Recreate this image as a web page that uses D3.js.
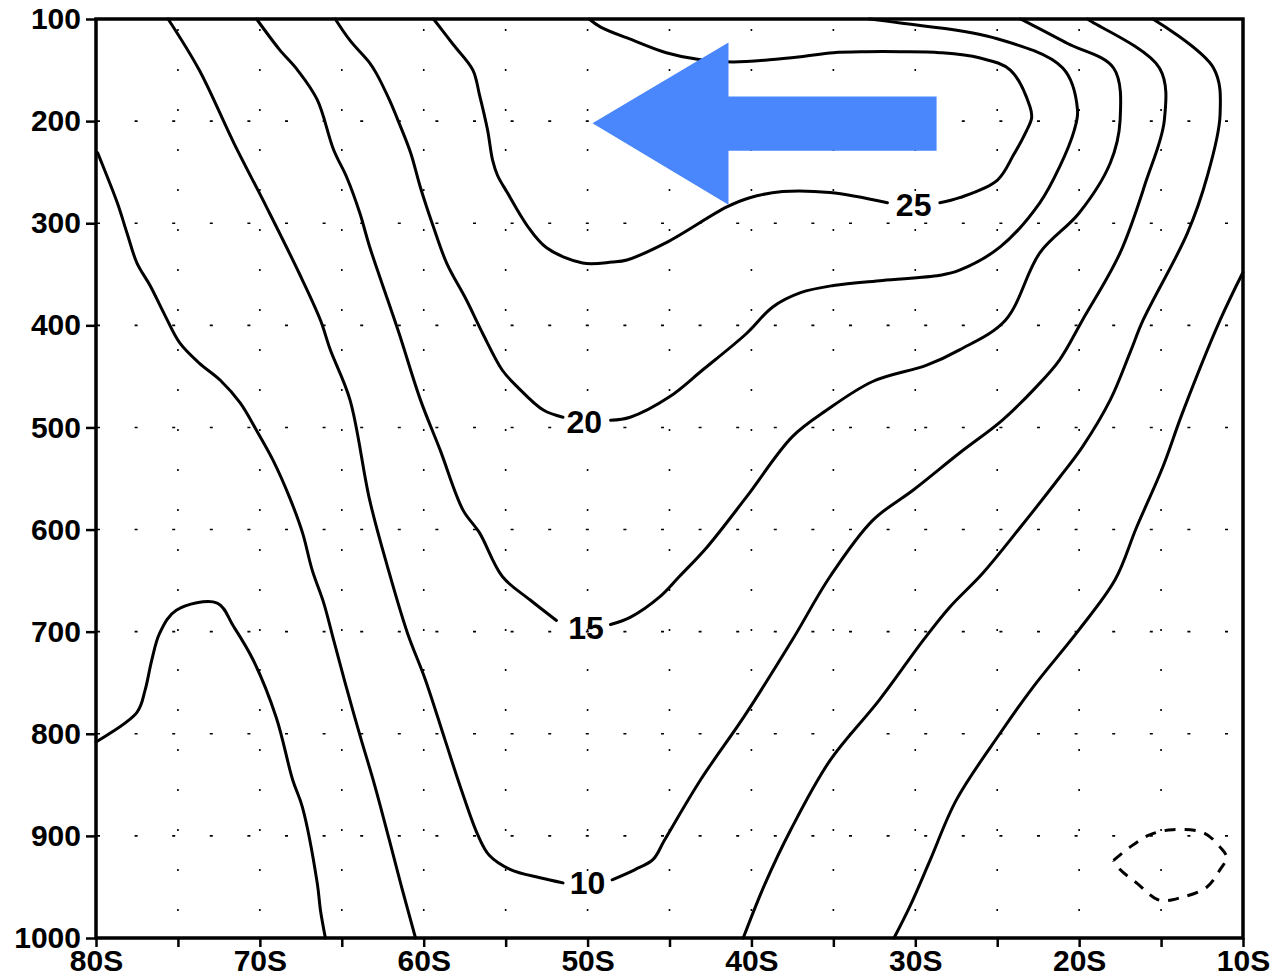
<!DOCTYPE html>
<html><head><meta charset="utf-8">
<script src="https://cdn.jsdelivr.net/npm/d3@7"></script>
<style>body{margin:0;background:#fff;}svg{display:block;}</style>
</head><body>
<svg id="chart" width="1276" height="980"></svg>
<script>
// ---- axis definitions ----
const latMajorTicks = [-80, -70, -60, -50, -40, -30, -20, -10];
const latAllTicks = [-80, -75, -70, -65, -60, -55, -50, -45, -40, -35, -30, -25, -20, -15, -10];
const pressureTicks = [100, 200, 300, 400, 500, 600, 700, 800, 900, 1000];

// ---- contour lines: [latitude (deg, negative = S), pressure (hPa)]; null = label gap ----
const contour25 = [[-59.4,100],[-58.2,125],[-57.0,150],[-56.6,174],[-56.1,209],[-55.8,238],[-55.5,253],[-54.9,270],
  [-53.7,302],[-52.5,324],[-50.3,339],[-48.5,338],[-47.6,336],[-45.2,319],[-41.5,284],[-40.1,275],[-38.1,269],
  [-35.2,270],[-31.7,280],null,[-28.5,280],[-27.3,275],[-25.0,258],[-24.0,233],[-23.2,209],[-22.9,197],[-23.0,186],
  [-24.2,150],[-26.1,138],[-28.5,133],[-30.9,132],[-33.0,132],[-35.0,133],[-37.0,137],[-38.9,140],[-41.1,142],
  [-43.1,140],[-45.2,133],[-47.2,121],[-49.2,108],[-49.9,100]];
const contour20 = [[-65.4,100],[-64.5,121],[-63.3,143],[-62.9,153],[-62.1,179],[-61.5,202],[-60.8,231],[-60.2,265],
  [-59.4,304],[-58.6,339],[-57.4,375],[-56.4,408],[-55.2,444],[-54.3,460],[-52.7,483],[-51.5,490],null,
  [-48.6,493],[-47.4,490],[-45.0,470],[-43.0,444],[-40.3,408],[-38.7,382],[-37.0,368],[-35.0,361],[-32.0,356],
  [-28.5,351],[-27.3,346],[-24.8,323],[-22.4,280],[-21.2,245],[-20.3,209],[-20.1,189],[-21.0,148],[-25.3,118],
  [-30.9,104],[-32.8,100]];
const contour15 = [[-70.2,100],[-68.8,130],[-67.7,150],[-66.5,179],[-65.5,228],[-64.7,255],[-63.9,290],[-63.3,323],
  [-62.2,375],[-61.5,408],[-60.2,473],[-59.0,522],[-57.6,581],[-56.6,603],[-55.2,646],[-53.5,669],[-51.9,689],null,
  [-48.6,693],[-47.4,686],[-45.6,666],[-44.4,646],[-42.7,617],[-40.3,568],[-37.5,509],[-35.4,483],[-32.6,455],
  [-29.3,439],[-27.3,424],[-24.5,395],[-22.4,329],[-20.0,290],[-18.1,241],[-17.5,199],[-17.9,148],[-20.7,124],
  [-23.2,103],[-23.6,100]];
const contour10 = [[-75.6,100],[-73.7,150],[-71.6,221],[-69.6,284],[-67.6,349],[-66.3,395],[-65.7,424],[-64.5,473],
  [-63.3,571],[-62.2,637],[-61.0,701],[-59.9,747],[-58.7,806],[-57.7,855],[-56.7,899],[-56.0,919],[-54.7,933],
  [-52.9,941],[-51.5,946],null,[-48.5,943],[-47.1,933],[-46.0,923],[-45.3,904],[-43.1,845],[-40.4,782],[-37.5,708],
  [-35.2,646],[-32.6,591],[-30.1,561],[-27.3,525],[-24.7,493],[-22.6,460],[-21.2,434],[-19.8,395],[-17.5,329],
  [-15.9,258],[-14.8,199],[-15.1,148],[-19.2,103],[-19.5,100]];
const contour5West = [[-79.9,231],[-79.6,243],[-78.7,280],[-78.1,310],[-77.5,339],[-76.7,361],[-75.8,390],[-74.9,417],
  [-73.7,437],[-72.4,454],[-71.2,476],[-70.2,503],[-69.2,532],[-68.2,568],[-67.4,603],[-66.8,640],[-66.1,672],
  [-65.5,708],[-64.8,750],[-63.9,801],[-63.0,850],[-62.1,904],[-61.3,953],[-60.5,1000]];
const contour5East = [[-15.5,100],[-11.8,148],[-11.4,194],[-12.2,255],[-13.4,310],[-16.1,395],[-16.9,427],[-18.1,473],
  [-19.8,519],[-21.2,549],[-23.6,598],[-25.9,643],[-27.9,676],[-29.5,708],[-32.2,767],[-35.2,826],[-37.6,894],
  [-39.2,948],[-40.5,1000]];
const contour0West = [[-80.0,808],[-77.5,779],[-77.0,757],[-76.6,728],[-76.1,701],[-75.1,679],[-72.6,672],[-71.6,695],
  [-70.4,728],[-69.0,784],[-68.0,845],[-67.4,872],[-66.5,946],[-66.3,973],[-66.0,1000]];
const contour0East = [[-10.0,348],[-11.4,395],[-13.7,486],[-14.9,539],[-16.5,598],[-17.8,649],[-20.0,698],[-22.8,754],
  [-24.8,799],[-27.5,865],[-29.1,924],[-30.3,968],[-31.3,1000]];
const contourNeg5 = [[-17.9,924],[-16.9,911],[-15.7,899],[-14.3,894],[-12.4,897],[-11.4,911],[-11.0,921],[-11.4,933],
  [-12.2,950],[-13.7,960],[-15.1,963],[-16.5,946],[-17.5,933],[-17.9,924]];

const contourLabels = [
  {text: "25", lat: -30.1, p: 282},
  {text: "20", lat: -50.2, p: 495},
  {text: "15", lat: -50.1, p: 696},
  {text: "10", lat: -50.0, p: 946}
];

// arrow annotation outline [lat, p]
const arrowShape = [[-49.7,202],[-41.4,123],[-41.4,176],[-28.7,176],[-28.7,229],[-41.4,229],[-41.4,282]];

// ---- drawing ----
const svg = d3.select("#chart");
const x = d3.scaleLinear().domain([-80, -10]).range([96, 1243]);
const y = d3.scaleLinear().domain([100, 1000]).range([19, 938]);
const fmtLat = d => Math.abs(d) + "S";
const FONT = "'Liberation Sans', Arial, sans-serif";

// dotted grid
const grid = svg.append("g");
grid.selectAll("line.v").data(latAllTicks.slice(1, -1)).join("line")
  .attr("x1", d => x(d)).attr("x2", d => x(d)).attr("y1", y(100)).attr("y2", y(1000))
  .attr("stroke", "#000").attr("stroke-width", 1.6)
  .attr("stroke-dasharray", "2,38").attr("stroke-dashoffset", -10);
grid.selectAll("line.h").data(pressureTicks.slice(1, -1)).join("line")
  .attr("x1", x(-80)).attr("x2", x(-10)).attr("y1", d => y(d)).attr("y2", d => y(d))
  .attr("stroke", "#000").attr("stroke-width", 1.6)
  .attr("stroke-dasharray", "3,34.6").attr("stroke-dashoffset", -1);

const line = d3.line().defined(d => d !== null)
  .x(d => x(d[0])).y(d => y(d[1]))
  .curve(d3.curveCatmullRom.alpha(0.5));

const solid = [contour25, contour20, contour15, contour10, contour5West, contour5East, contour0West, contour0East];
svg.append("g").selectAll("path").data(solid).join("path")
  .attr("d", line).attr("fill", "none").attr("stroke", "#000")
  .attr("stroke-width", 3).attr("stroke-linejoin", "round").attr("stroke-linecap", "round");

svg.append("path").datum(contourNeg5).attr("d", line).attr("fill", "none")
  .attr("stroke", "#000").attr("stroke-width", 3).attr("stroke-dasharray", "11,9");

svg.append("g").selectAll("text").data(contourLabels).join("text")
  .attr("x", d => x(d.lat)).attr("y", d => y(d.p))
  .attr("text-anchor", "middle").attr("dominant-baseline", "central")
  .attr("font-family", FONT).attr("font-size", 32).attr("font-weight", "bold")
  .attr("fill", "#000").text(d => d.text);

// frame
svg.append("rect").attr("x", x(-80)).attr("y", y(100))
  .attr("width", x(-10) - x(-80)).attr("height", y(1000) - y(100))
  .attr("fill", "none").attr("stroke", "#000").attr("stroke-width", 3.5);

// axes
const xAxis = d3.axisBottom(x).tickValues(latAllTicks).tickSize(9)
  .tickFormat(d => latMajorTicks.includes(d) ? fmtLat(d) : "");
const gx = svg.append("g").attr("transform", `translate(0,${y(1000)})`).call(xAxis);
gx.select(".domain").remove();
gx.selectAll(".tick line").attr("stroke-width", 2.5);
gx.selectAll(".tick text").attr("y", 12).attr("dy", "0.71em");

const yAxis = d3.axisLeft(y).tickValues(pressureTicks).tickSize(10).tickPadding(5)
  .tickFormat(d3.format("d"));
const gy = svg.append("g").attr("transform", `translate(${x(-80)},0)`).call(yAxis);
gy.select(".domain").remove();
gy.selectAll(".tick line").attr("stroke-width", 2.5);

svg.selectAll(".tick text").attr("font-family", FONT)
  .attr("font-size", 30).attr("font-weight", "bold").attr("fill", "#000");

// arrow annotation
svg.append("path").datum(arrowShape)
  .attr("d", d3.line().x(d => x(d[0])).y(d => y(d[1])).curve(d3.curveLinearClosed))
  .attr("fill", "#4A87FC");
</script>
</body></html>
